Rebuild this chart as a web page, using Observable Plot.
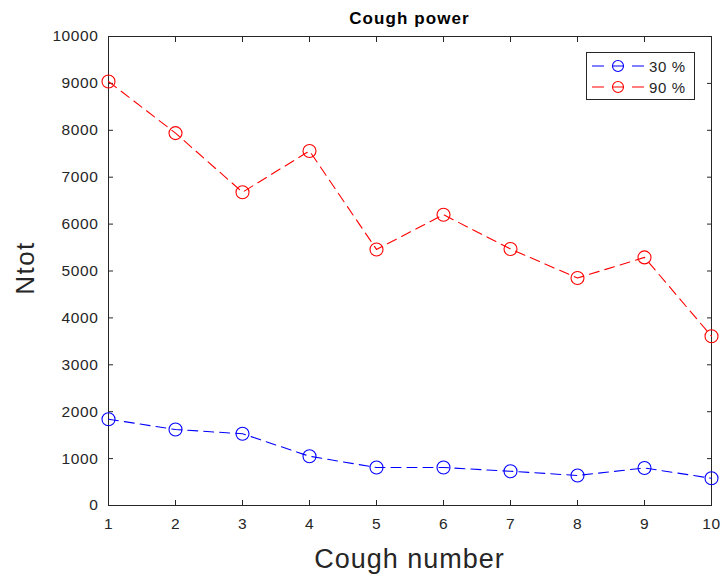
<!DOCTYPE html>
<html>
<head>
<meta charset="utf-8">
<script src="https://cdn.jsdelivr.net/npm/d3@7"></script>
<script src="https://cdn.jsdelivr.net/npm/@observablehq/plot@0.6"></script>
<style>
  html, body { margin: 0; padding: 0; background: #fff; }
  #wrap { position: relative; width: 722px; height: 581px; font-family: "Liberation Sans", Arial, sans-serif; color: #262626; }
  #title { position: absolute; left: 108px; width: 603px; top: 9px; text-align: center; font-weight: bold; font-size: 17px; letter-spacing: 1.1px; color: #000; line-height: 20px; }
  #ylab { position: absolute; left: 25px; top: 268px; transform: translate(-50%, -50%) rotate(-90deg); font-size: 26px; letter-spacing: 1.5px; white-space: nowrap; line-height: 30px; }
  #xlab { position: absolute; left: 108px; width: 603px; top: 544px; text-align: center; font-size: 27px; letter-spacing: 1px; line-height: 30px; }
  #legend { position: absolute; left: 586px; top: 52px; width: 107px; height: 46px; border: 1px solid #262626; background: #fff; font-size: 15px; letter-spacing: 0.6px; }
  .row { position: absolute; left: 0; height: 20px; display: flex; align-items: center; }
</style>
</head>
<body>
<div id="wrap">
  <div id="chart"></div>
  <div id="title">Cough power</div>
  <div id="ylab">Ntot</div>
  <div id="xlab">Cough number</div>
  <div id="legend"></div>
</div>
<script>
const coughNumbers = [1, 2, 3, 4, 5, 6, 7, 8, 9, 10];
const series30 = [1840, 1620, 1530, 1050, 810, 810, 730, 640, 800, 580];
const series90 = [9040, 7940, 6680, 7560, 5460, 6200, 5470, 4850, 5290, 3610];
const seriesNames = ["30 %", "90 %"];
const seriesColors = ["#0000ff", "#ff0000"];
const yTicks = [0, 1000, 2000, 3000, 4000, 5000, 6000, 7000, 8000, 9000, 10000];

const rows = [];
coughNumbers.forEach((c, i) => rows.push({x: c, y: series30[i], s: seriesNames[0]}));
coughNumbers.forEach((c, i) => rows.push({x: c, y: series90[i], s: seriesNames[1]}));

const fmt = d3.format("d");
const chart = Plot.plot({
  width: 722,
  height: 581,
  marginTop: 36,
  marginBottom: 76,
  marginLeft: 108,
  marginRight: 11,
  style: {fontFamily: "'Liberation Sans', Arial, sans-serif", fontSize: "15.5px", color: "#262626", background: "#fff", letterSpacing: "0.6px"},
  x: {domain: [1, 10]},
  y: {domain: [0, 10000]},
  color: {domain: seriesNames, range: seriesColors},
  marks: [
    Plot.axisX({anchor: "bottom", ticks: coughNumbers, tickFormat: fmt, tickSize: -5, tickPadding: 17, label: null, fill: "#262626", stroke: "#262626"}),
    Plot.axisX({anchor: "top", ticks: coughNumbers, tickSize: -5, tickFormat: () => "", label: null, stroke: "#262626"}),
    Plot.axisY({anchor: "left", ticks: yTicks, tickFormat: fmt, tickSize: -5, tickPadding: 15, label: null, fill: "#262626", stroke: "#262626"}),
    Plot.axisY({anchor: "right", ticks: yTicks, tickSize: -5, tickFormat: () => "", label: null, stroke: "#262626"}),
    Plot.frame({stroke: "#262626", strokeWidth: 1}),
    Plot.line(rows, {x: "x", y: "y", z: "s", stroke: "s", strokeWidth: 1.1, strokeDasharray: "10,6"}),
    Plot.dot(rows, {x: "x", y: "y", stroke: "s", r: 6.5, strokeWidth: 1.1, fill: "none"})
  ]
});
document.getElementById("chart").appendChild(chart);

// legend
const leg = document.getElementById("legend");
seriesNames.forEach((name, i) => {
  const row = document.createElement("div");
  row.className = "row";
  row.style.top = (3 + i * 21) + "px";
  row.style.width = "107px";
  const s = d3.create("svg").attr("width", 56).attr("height", 20).style("margin-left", "5px");
  s.append("line").attr("x1", 0).attr("x2", 56).attr("y1", 10).attr("y2", 10)
    .attr("stroke", seriesColors[i]).attr("stroke-width", 1.1).attr("stroke-dasharray", "12,8");
  s.append("circle").attr("cx", 26).attr("cy", 10).attr("r", 5.5)
    .attr("fill", "none").attr("stroke", seriesColors[i]).attr("stroke-width", 1.1);
  row.appendChild(s.node());
  const t = document.createElement("span");
  t.textContent = name;
  t.style.marginLeft = "1px";
  row.appendChild(t);
  leg.appendChild(row);
});
</script>
</body>
</html>
